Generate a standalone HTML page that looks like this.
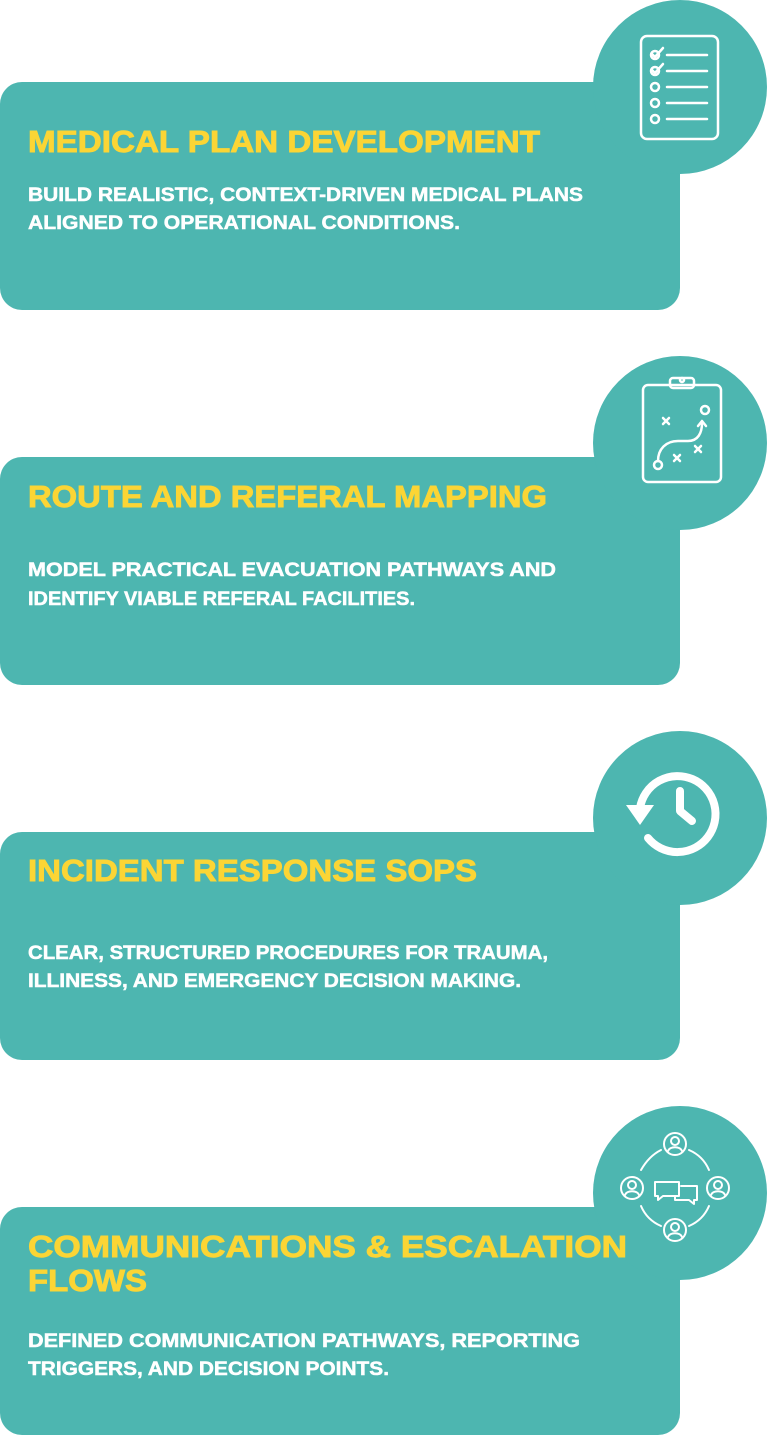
<!DOCTYPE html>
<html><head><meta charset="utf-8"><style>
html,body{margin:0;padding:0;background:#fff;}
svg{display:block}
.t{font-family:"Liberation Sans",sans-serif;font-weight:bold;fill:#fbd535;stroke:#fbd535;stroke-width:0.9;font-size:31px}
.b{font-family:"Liberation Sans",sans-serif;font-weight:bold;fill:#fff;stroke:#fff;stroke-width:0.5;font-size:19px}
.i{fill:none;stroke:#fff;stroke-width:2.5;stroke-linecap:round;stroke-linejoin:round}
</style></head><body>
<svg width="768" height="1455" viewBox="0 0 768 1455">
<g fill="#4db6b0">
<rect x="0" y="82" width="680" height="228" rx="22"/><circle cx="680" cy="87" r="87"/>
<rect x="0" y="457" width="680" height="228" rx="22"/><circle cx="680" cy="443" r="87"/>
<rect x="0" y="832" width="680" height="228" rx="22"/><circle cx="680" cy="818" r="87"/>
<rect x="0" y="1207" width="680" height="228" rx="22"/><circle cx="680" cy="1193" r="87"/>
</g>
<g class="i">
<rect x="641" y="36" width="77" height="103" rx="6"/>
<circle cx="655" cy="55" r="4"/><circle cx="655" cy="71" r="4"/><circle cx="655" cy="87" r="4"/><circle cx="655" cy="103" r="4"/><circle cx="655" cy="119" r="4"/>
<path d="M652 54l3 3 8-9M652 70l3 3 8-9"/>
<path d="M667 55h40M667 71h40M667 87h40M667 103h40M667 119h40"/>
</g>
<g class="i">
<rect x="643" y="385" width="78" height="97" rx="5"/>
<rect x="670" y="378" width="24" height="10" rx="3"/>
<circle cx="682" cy="380" r="2"/>
<circle cx="658" cy="465" r="4"/><circle cx="705" cy="410" r="4"/>
<path d="M658 461c0-12 8-20 20-20h10c10 0 14-8 14-18"/>
<path d="M698 426l4-5 4 5"/>
<path d="M663 418l6 6M669 418l-6 6M674 455l6 6M680 455l-6 6M695 446l6 6M701 446l-6 6"/>
</g>
<g class="i" style="stroke-width:8">
<path d="M640 808a38 38 0 1 1 8 30"/>
<path d="M680 791v20l12 10"/>
</g>
<path d="M626 805h28l-14 20z" fill="#fff"/>
<g class="i" style="stroke-width:2">
<circle cx="675" cy="1144" r="11"/><circle cx="675" cy="1141" r="4"/><path d="M668 1151c2-5 12-5 14 0"/>
<circle cx="675" cy="1230" r="11"/><circle cx="675" cy="1227" r="4"/><path d="M668 1237c2-5 12-5 14 0"/>
<circle cx="632" cy="1188" r="11"/><circle cx="632" cy="1185" r="4"/><path d="M625 1195c2-5 12-5 14 0"/>
<circle cx="718" cy="1188" r="11"/><circle cx="718" cy="1185" r="4"/><path d="M711 1195c2-5 12-5 14 0"/>
<path d="M655 1182h24v14h-16l-5 4v-4h-3z"/><path d="M681 1186h16v14h-3v4l-5-4h-14v-4"/>
<path d="M641 1170q8-14 20-20M689 1150q14 6 20 20M709 1206q-6 14-20 20M661 1226q-14-6-20-20"/>
</g>
<text class="t" x="28" y="152" textLength="512" lengthAdjust="spacingAndGlyphs">MEDICAL PLAN DEVELOPMENT</text>
<text class="b" x="28" y="201" textLength="555" lengthAdjust="spacingAndGlyphs">BUILD REALISTIC, CONTEXT-DRIVEN MEDICAL PLANS</text>
<text class="b" x="28" y="229" textLength="432" lengthAdjust="spacingAndGlyphs">ALIGNED TO OPERATIONAL CONDITIONS.</text>
<text class="t" x="28" y="507" textLength="519" lengthAdjust="spacingAndGlyphs">ROUTE AND REFERAL MAPPING</text>
<text class="b" x="28" y="576" textLength="528" lengthAdjust="spacingAndGlyphs">MODEL PRACTICAL EVACUATION PATHWAYS AND</text>
<text class="b" x="28" y="605" textLength="387" lengthAdjust="spacingAndGlyphs">IDENTIFY VIABLE REFERAL FACILITIES.</text>
<text class="t" x="28" y="881" textLength="449" lengthAdjust="spacingAndGlyphs">INCIDENT RESPONSE SOPS</text>
<text class="b" x="28" y="959" textLength="520" lengthAdjust="spacingAndGlyphs">CLEAR, STRUCTURED PROCEDURES FOR TRAUMA,</text>
<text class="b" x="28" y="987" textLength="493" lengthAdjust="spacingAndGlyphs">ILLINESS, AND EMERGENCY DECISION MAKING.</text>
<text class="t" x="28" y="1257" textLength="599" lengthAdjust="spacingAndGlyphs">COMMUNICATIONS &amp; ESCALATION</text>
<text class="t" x="28" y="1291" textLength="119" lengthAdjust="spacingAndGlyphs">FLOWS</text>
<text class="b" x="28" y="1347" textLength="552" lengthAdjust="spacingAndGlyphs">DEFINED COMMUNICATION PATHWAYS, REPORTING</text>
<text class="b" x="28" y="1375" textLength="361" lengthAdjust="spacingAndGlyphs">TRIGGERS, AND DECISION POINTS.</text>
</svg>
</body></html>
